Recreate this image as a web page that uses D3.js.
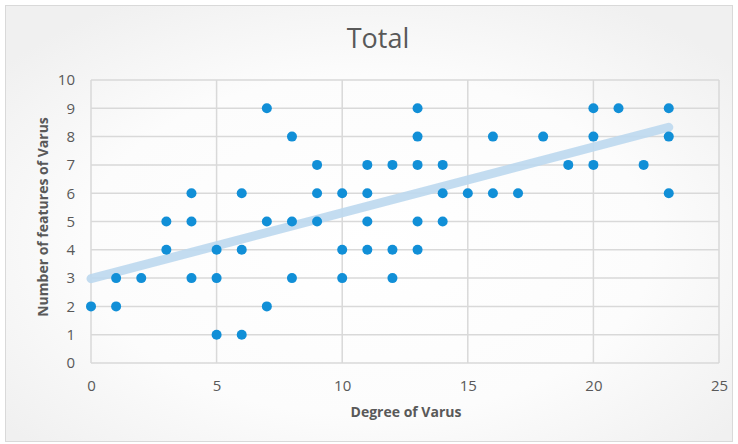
<!DOCTYPE html>
<html><head><meta charset="utf-8">
<script src="https://cdn.jsdelivr.net/npm/d3@7"></script>
<style>html,body{margin:0;padding:0;background:#fff;}svg{display:block;}</style>
</head><body>
<script>
// Data
const degreeOfVarus = [7,13,20,21,23, 8,13,16,18,20,23, 9,11,12,13,14,19,20,22, 4,6,9,10,11,14,15,16,17,23, 3,4,7,8,9,11,13,14, 3,5,6,10,11,12,13, 1,2,4,5,8,10,12, 0,1,7, 5,6];
const featuresOfVarus = [9,9,9,9,9, 8,8,8,8,8,8, 7,7,7,7,7,7,7,7, 6,6,6,6,6,6,6,6,6,6, 5,5,5,5,5,5,5,5, 4,4,4,4,4,4,4, 3,3,3,3,3,3,3, 2,2,2, 1,1];
const trendX = [0, 23];
const trendY = [2.98, 8.33];
const xTicks = [0,5,10,15,20,25];
const yTicks = [0,1,2,3,4,5,6,7,8,9,10];

const W = 738, H = 444;
const svg = d3.select("body").append("svg").attr("width", W).attr("height", H);
const defs = svg.append("defs");
const rg = defs.append("radialGradient").attr("id","bg").attr("cx","50%").attr("cy","55%").attr("r","65%");
rg.append("stop").attr("offset","0%").attr("stop-color","#ffffff");
rg.append("stop").attr("offset","60%").attr("stop-color","#fcfcfc");
rg.append("stop").attr("offset","100%").attr("stop-color","#f0f0f0");

svg.append("rect").attr("x",5.5).attr("y",5.5).attr("width",W-11).attr("height",H-8)
  .attr("fill","url(#bg)").attr("stroke","#d9d9d9").attr("stroke-width",1);

const m = {l:91, r:719, t:80, b:363};
const x = d3.scaleLinear().domain([0,25]).range([m.l, m.r]);
const y = d3.scaleLinear().domain([0,10]).range([m.b, m.t]);

const font = "'Open Sans', 'Noto Sans', sans-serif";

// Horizontal gridlines
svg.append("g").selectAll("line").data(yTicks).join("line")
  .attr("x1", m.l).attr("x2", m.r).attr("y1", d=>y(d)).attr("y2", d=>y(d))
  .attr("stroke","#d9d9d9").attr("stroke-width",1.5);
// Vertical gridlines
svg.append("g").selectAll("line").data(xTicks).join("line")
  .attr("y1", m.t).attr("y2", m.b).attr("x1", d=>x(d)).attr("x2", d=>x(d))
  .attr("stroke","#d9d9d9").attr("stroke-width",1.5);

// Axes labels via d3 axes
const yAxis = svg.append("g").attr("transform",`translate(${m.l},0)`)
  .call(d3.axisLeft(y).tickValues(yTicks).tickSize(0).tickPadding(16));
const xAxis = svg.append("g").attr("transform",`translate(0,${m.b})`)
  .call(d3.axisBottom(x).tickValues(xTicks).tickSize(0).tickPadding(17));
[yAxis, xAxis].forEach(a => {
  a.select(".domain").remove();
  a.selectAll("text").attr("fill","#595959").style("font-family",font).style("font-size","15px");
});

// Trendline
const line = d3.line().x(d=>x(d[0])).y(d=>y(d[1]));
svg.append("path").datum(trendX.map((v,i)=>[v,trendY[i]]))
  .attr("d", line).attr("fill","none").attr("stroke","#bcd8ee").attr("stroke-width",9)
  .attr("stroke-linecap","round").attr("opacity",0.9);

// Points
svg.append("g").selectAll("circle").data(degreeOfVarus.map((v,i)=>[v,featuresOfVarus[i]])).join("circle")
  .attr("cx", d=>x(d[0])).attr("cy", d=>y(d[1])).attr("r",5)
  .attr("fill","#118fd7");

// Title
svg.append("text").attr("x", 378).attr("y", 48).attr("text-anchor","middle")
  .attr("fill","#595959").style("font-family",font).style("font-size","27px")
  .text("Total");

// Axis titles
svg.append("text").attr("x", 406).attr("y", 417).attr("text-anchor","middle")
  .attr("fill","#595959").style("font-family",font).style("font-size","14px").style("font-weight","bold")
  .text("Degree of Varus");
svg.append("text").attr("transform", `translate(48,217) rotate(-90)`).attr("text-anchor","middle")
  .attr("fill","#595959").style("font-family",font).style("font-size","14px").style("font-weight","bold")
  .text("Number of features of Varus");
</script>
</body></html>
